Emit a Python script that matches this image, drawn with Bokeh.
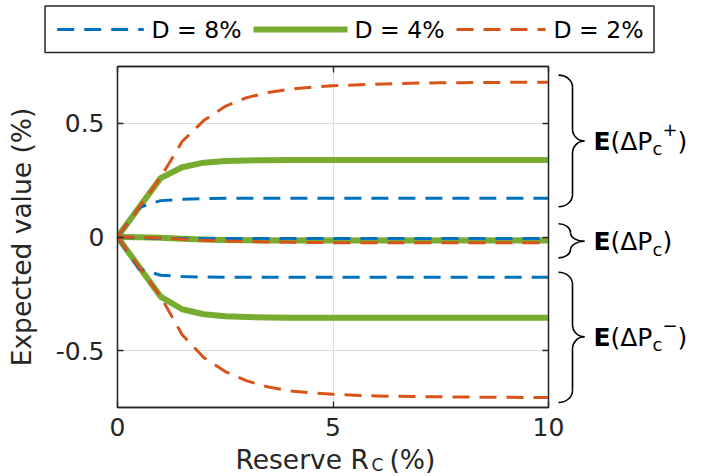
import numpy as np
from bokeh.plotting import figure
from bokeh.models import Range1d, LinearAxis, FixedTicker
from bokeh.layouts import column, row
from bokeh.embed import file_html
from bokeh.resources import INLINE
from bokeh.core.properties import value

# ---------------- data ----------------
reserve = [0, 0.5, 1, 1.5, 2, 2.5, 3, 3.5, 4, 4.5, 5, 5.5, 6, 6.5, 7, 7.5, 8, 8.5, 9, 9.5, 10]

d8_pos = [0, 0.130, 0.160, 0.166, 0.169, 0.170, 0.171, 0.171, 0.171, 0.171, 0.171,
          0.171, 0.171, 0.171, 0.171, 0.171, 0.171, 0.171, 0.171, 0.171, 0.171]
d8_mid = [0, -0.004, -0.006, -0.007, -0.007, -0.007, -0.007, -0.007, -0.007, -0.007, -0.007,
          -0.007, -0.007, -0.007, -0.007, -0.007, -0.007, -0.007, -0.007, -0.007, -0.007]
d8_neg = [0, -0.140, -0.168, -0.174, -0.176, -0.177, -0.177, -0.177, -0.177, -0.177, -0.177,
          -0.177, -0.177, -0.177, -0.177, -0.177, -0.177, -0.177, -0.177, -0.177, -0.177]

d4_pos = [0, 0.130, 0.259, 0.307, 0.327, 0.334, 0.337, 0.338, 0.339, 0.339, 0.339,
          0.339, 0.339, 0.339, 0.339, 0.339, 0.339, 0.339, 0.339, 0.339, 0.339]
d4_mid = [0, -0.001, -0.003, -0.008, -0.011, -0.013, -0.014, -0.015, -0.015, -0.015, -0.015,
          -0.015, -0.015, -0.015, -0.015, -0.015, -0.015, -0.015, -0.015, -0.015, -0.015]
d4_neg = [0, -0.131, -0.262, -0.318, -0.340, -0.349, -0.352, -0.354, -0.355, -0.355, -0.355,
          -0.355, -0.355, -0.355, -0.355, -0.355, -0.355, -0.355, -0.355, -0.355, -0.355]

d2_pos = [0, 0.130, 0.262, 0.420, 0.512, 0.575, 0.613, 0.636, 0.650, 0.659, 0.665,
          0.669, 0.672, 0.675, 0.677, 0.678, 0.679, 0.680, 0.680, 0.681, 0.681]
d2_mid = [0, -0.002, -0.004, -0.010, -0.015, -0.018, -0.020, -0.022, -0.023, -0.024, -0.025,
          -0.025, -0.025, -0.025, -0.025, -0.025, -0.025, -0.025, -0.025, -0.025, -0.025]
d2_neg = [0, -0.131, -0.262, -0.430, -0.530, -0.592, -0.633, -0.660, -0.677, -0.686, -0.692,
          -0.696, -0.699, -0.701, -0.702, -0.703, -0.704, -0.705, -0.705, -0.706, -0.706]

legend_labels = ["D = 8%", "D = 4%", "D = 2%"]
x_ticks = [0, 5, 10]
y_ticks = [-0.5, 0, 0.5]
x_tick_labels = ["0", "5", "10"]
y_tick_labels = ["-0.5", "0", "0.5"]

# brace extents (data units) and labels
brace_top = [0.712, 0.058, -0.155]
brace_bot = [0.133, -0.092, -0.728]
brace_tip = [0.422, -0.019, -0.439]
brace_sup = ["+", "", "\u2212"]

# ---------------- styles ----------------
FONT = "DejaVu Sans"
AX = "#262626"
BLUE, GREEN, ORANGE = "#0072BD", "#77AC30", "#D95319"
series = [
    (BLUE, 3, "17 10", d8_pos, d8_mid, d8_neg),
    (GREEN, 6, "solid", d4_pos, d4_mid, d4_neg),
    (ORANGE, 3, "17 10", d2_pos, d2_mid, d2_neg),
]
BASE_SHIFT = 0.34  # em; compensation for where the renderer puts the alphabetic baseline

Y0, Y1 = -0.75, 0.75
FRAME_H = 341
dpp = (Y1 - Y0) / FRAME_H  # data units per pixel (vertical)

xr = Range1d(0, 10)
yr = Range1d(Y0, Y1)


def no_align(fig):
    try:
        fig.frame_align = False
    except Exception:
        pass


def hide_grids(fig):
    for g in fig.grid:
        g.visible = False


# ---------------- main plot ----------------
main = figure(width=557, height=350, x_range=xr, y_range=yr,
              output_backend="svg", toolbar_location=None,
              x_axis_location=None, y_axis_location=None,
              min_border_left=117, min_border_right=9,
              min_border_top=6, min_border_bottom=3)
no_align(main)
main.outline_line_color = AX
main.outline_line_width = 1.3
main.background_fill_color = "white"
main.border_fill_color = "white"
main.xgrid.ticker = FixedTicker(ticks=x_ticks)
main.ygrid.ticker = FixedTicker(ticks=y_ticks)
main.xgrid.grid_line_color = "#dedede"
main.ygrid.grid_line_color = "#dedede"


def style_axis(ax):
    ax.axis_line_color = AX
    ax.axis_line_width = 1.3
    ax.major_tick_in = 6
    ax.major_tick_out = 0
    ax.minor_tick_in = 0
    ax.minor_tick_out = 0
    ax.major_tick_line_color = AX
    ax.major_tick_line_width = 1.3


left = LinearAxis(ticker=FixedTicker(ticks=y_ticks),
                  major_label_overrides=dict(zip(y_ticks, y_tick_labels)))
style_axis(left)
left.major_label_text_font = FONT
left.major_label_text_font_size = "25px"
left.major_label_text_color = AX
left.major_label_standoff = 13
left.axis_label = "Expected value (%)"
left.axis_label_text_font = FONT
left.axis_label_text_font_size = "26.5px"
left.axis_label_text_font_style = "normal"
left.axis_label_text_color = AX
left.axis_label_standoff = 16
main.add_layout(left, "left")

for side, tk in (("below", x_ticks), ("above", x_ticks), ("right", y_ticks)):
    ax = LinearAxis(ticker=FixedTicker(ticks=tk),
                    major_label_overrides={t: "" for t in tk})
    style_axis(ax)
    ax.major_label_text_font_size = "0px"
    ax.major_label_standoff = 0
    main.add_layout(ax, side)

# draw order: green first, then blue, then orange
for idx in (1, 0, 2):
    color, lw, dash, pos, mid, neg = series[idx]
    for ys in (pos, mid, neg):
        main.line(reserve, ys, line_color=color, line_width=lw, line_dash=dash,
                  line_cap="butt", line_join="round")

# ---------------- right annotation (braces) ----------------
ann = figure(width=159, height=350, x_range=Range1d(557, 716), y_range=yr,
             output_backend="svg", toolbar_location=None,
             x_axis_location=None, y_axis_location=None,
             min_border_left=0, min_border_right=0,
             min_border_top=6, min_border_bottom=3)
no_align(ann)
hide_grids(ann)
ann.outline_line_color = None
ann.background_fill_color = "white"
ann.border_fill_color = "white"

X_END = 558.0
X_TIP = 584.0
K = 0.552
bx0, by0, bx1, by1, bcx0, bcy0, bcx1, bcy1 = ([] for _ in range(8))
sx0, sy0, sx1, sy1 = [], [], [], []
for top, bot, tip in zip(brace_top, brace_bot, brace_tip):
    half_px = (top - bot) / 2 / dpp
    xv = 572.0 if half_px > 30 else 570.0
    r_px = min(12.0, half_px / 2.0)
    r = r_px * dpp
    we = xv - X_END
    wt = X_TIP - xv
    bx0.append(X_END); by0.append(top); bx1.append(xv); by1.append(top - r)
    bcx0.append(X_END + K * we); bcy0.append(top); bcx1.append(xv); bcy1.append(top - r + K * r)
    bx0.append(xv); by0.append(tip + r); bx1.append(X_TIP); by1.append(tip)
    bcx0.append(xv); bcy0.append(tip + r - K * r); bcx1.append(X_TIP - K * wt); bcy1.append(tip)
    bx0.append(X_TIP); by0.append(tip); bx1.append(xv); by1.append(tip - r)
    bcx0.append(X_TIP - K * wt); bcy0.append(tip); bcx1.append(xv); bcy1.append(tip - r + K * r)
    bx0.append(xv); by0.append(bot + r); bx1.append(X_END); by1.append(bot)
    bcx0.append(xv); bcy0.append(bot + r - K * r); bcx1.append(X_END + K * we); bcy1.append(bot)
    if top - r > tip + r:
        sx0.append(xv); sy0.append(top - r); sx1.append(xv); sy1.append(tip + r)
    if tip - r > bot + r:
        sx0.append(xv); sy0.append(tip - r); sx1.append(xv); sy1.append(bot + r)

ann.bezier(x0=bx0, y0=by0, x1=bx1, y1=by1, cx0=bcx0, cy0=bcy0, cx1=bcx1, cy1=bcy1,
           line_color="black", line_width=1.6)
ann.segment(x0=sx0, y0=sy0, x1=sx1, y1=sy1, line_color="black", line_width=1.6)

# baselines (px below the tip), compensated for the renderer's baseline offset
base_y = [t - (9 - BASE_SHIFT * 25) * dpp for t in brace_tip]
sub_y = [t - (14 - BASE_SHIFT * 18) * dpp for t in brace_tip]
sup_y = [t + (5 + BASE_SHIFT * 18) * dpp for t in brace_tip]
n = len(brace_tip)
ann.text(x=[593] * n, y=base_y, text=["E"] * n, text_font=value(FONT), text_font_size="25px",
         text_font_style="bold", text_color="black", text_baseline="alphabetic", text_align="left")
ann.text(x=[610] * n, y=base_y, text=["(\u0394P"] * n, text_font=value(FONT), text_font_size="25px",
         text_color="black", text_baseline="alphabetic", text_align="left")
ann.text(x=[652] * n, y=sub_y, text=["c"] * n, text_font=value(FONT), text_font_size="18px",
         text_color="black", text_baseline="alphabetic", text_align="left")
sup_idx = [i for i in range(n) if brace_sup[i]]
ann.text(x=[662] * len(sup_idx), y=[sup_y[i] for i in sup_idx], text=[brace_sup[i] for i in sup_idx],
         text_font=value(FONT), text_font_size="18px", text_color="black",
         text_baseline="alphabetic", text_align="left")
ann.text(x=[677 if brace_sup[i] else 662 for i in range(n)], y=base_y, text=[")"] * n,
         text_font=value(FONT), text_font_size="25px", text_color="black",
         text_baseline="alphabetic", text_align="left")

# ---------------- legend (top) ----------------
leg = figure(width=716, height=60, x_range=Range1d(0, 716), y_range=Range1d(60, 0),
             output_backend="svg", toolbar_location=None,
             x_axis_location=None, y_axis_location=None,
             min_border_left=0, min_border_right=0, min_border_top=0, min_border_bottom=0)
no_align(leg)
hide_grids(leg)
leg.outline_line_color = None
leg.quad(left=[44.5], right=[653.5], top=[5.5], bottom=[52], fill_color="white",
         line_color=AX, line_width=1.5)
samp_x0 = [56.7, 253.0, 456.0]
samp_x1 = [143.3, 347.0, 545.0]
text_x = [151.0, 354.0, 553.0]
for i, (color, lw, dash, *_r) in enumerate(series):
    leg.line([samp_x0[i], samp_x1[i]], [29, 29], line_color=color, line_width=lw,
             line_dash=dash, line_cap="butt")
leg.text(x=text_x, y=[37.6 - BASE_SHIFT * 23.5] * 3, text=legend_labels, text_font=value(FONT),
         text_font_size="23.5px", text_color="black", text_baseline="alphabetic",
         text_align="left")

# ---------------- bottom strip: x tick labels and x axis label ----------------
strip = figure(width=716, height=66, x_range=xr, y_range=Range1d(476, 446),
               output_backend="svg", toolbar_location=None,
               x_axis_location=None, y_axis_location=None,
               min_border_left=117, min_border_right=168, min_border_top=36, min_border_bottom=0)
no_align(strip)
hide_grids(strip)
strip.extra_x_ranges = {"px": Range1d(117, 548)}
strip.outline_line_color = None
strip.background_fill_color = "white"
xax = LinearAxis(ticker=FixedTicker(ticks=x_ticks),
                 major_label_overrides=dict(zip(x_ticks, x_tick_labels)))
xax.axis_line_color = None
xax.major_tick_line_color = None
xax.minor_tick_line_color = None
xax.major_label_text_font = FONT
xax.major_label_text_font_size = "25px"
xax.major_label_text_color = AX
xax.major_label_standoff = 5
strip.add_layout(xax, "above")
strip.text(x=[235], y=[467.8 - BASE_SHIFT * 26.5], text=["Reserve R"], x_range_name="px",
           text_font=value(FONT), text_font_size="26.5px", text_color=AX,
           text_baseline="alphabetic", text_align="left")
strip.text(x=[371], y=[470.5 - BASE_SHIFT * 17], text=["C"], x_range_name="px",
           text_font=value(FONT), text_font_size="17px", text_color=AX,
           text_baseline="alphabetic", text_align="left")
strip.text(x=[389], y=[467.8 - BASE_SHIFT * 26.5], text=["(%)"], x_range_name="px",
           text_font=value(FONT), text_font_size="26.5px", text_color=AX,
           text_baseline="alphabetic", text_align="left")

layout = column(leg, row(main, ann), strip)
open("out.html", "w").write(file_html(layout, INLINE))
